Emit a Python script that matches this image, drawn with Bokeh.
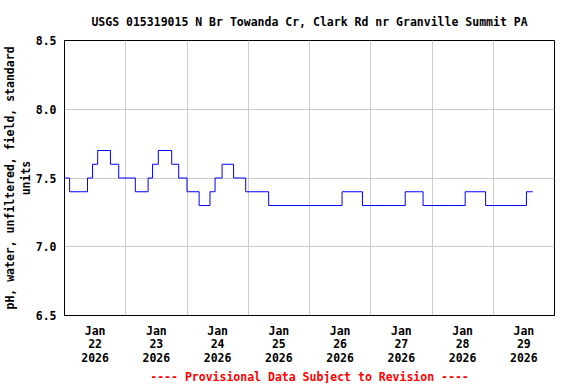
import pandas as pd
from bokeh.plotting import figure
from bokeh.models import FixedTicker, NumeralTickFormatter, Title, Range1d
from bokeh.embed import file_html
from bokeh.resources import INLINE

# pH change points (step series)
times = [
    "2026-01-22 00:00", "2026-01-22 02:00", "2026-01-22 09:00", "2026-01-22 11:00",
    "2026-01-22 13:00", "2026-01-22 18:00", "2026-01-22 21:15", "2026-01-23 03:45",
    "2026-01-23 08:45", "2026-01-23 10:30", "2026-01-23 12:45", "2026-01-23 18:00",
    "2026-01-23 20:45", "2026-01-24 00:00", "2026-01-24 04:45", "2026-01-24 09:00",
    "2026-01-24 11:00", "2026-01-24 13:45", "2026-01-24 18:15", "2026-01-24 23:00",
    "2026-01-25 08:00", "2026-01-26 12:45", "2026-01-26 20:45", "2026-01-27 13:30",
    "2026-01-27 20:30", "2026-01-28 13:00", "2026-01-28 21:00", "2026-01-29 13:00",
    "2026-01-29 15:30",
]
values = [
    7.5, 7.4, 7.5, 7.6,
    7.7, 7.6, 7.5, 7.4,
    7.5, 7.6, 7.7, 7.6,
    7.5, 7.4, 7.3, 7.4,
    7.5, 7.6, 7.5, 7.4,
    7.3, 7.4, 7.3, 7.4,
    7.3, 7.4, 7.3, 7.4,
    7.4,
]

x_start = "2026-01-22"
x_end = "2026-01-30"
label_days = ["2026-01-22", "2026-01-23", "2026-01-24", "2026-01-25",
              "2026-01-26", "2026-01-27", "2026-01-28", "2026-01-29"]
x_labels = ["Jan\n22\n2026", "Jan\n23\n2026", "Jan\n24\n2026", "Jan\n25\n2026",
            "Jan\n26\n2026", "Jan\n27\n2026", "Jan\n28\n2026", "Jan\n29\n2026"]
y_ticks = [6.5, 7.0, 7.5, 8.0, 8.5]
y_grid = [7.0, 7.5, 8.0]

title_text = "USGS 015319015 N Br Towanda Cr, Clark Rd nr Granville Summit PA"
y_label = "pH, water, unfiltered, field, standard\nunits"
footer = "---- Provisional Data Subject to Revision ----"

FONT = "DejaVu Sans Mono"
FS = "11.5px"


def ms(s):
    return pd.Timestamp(s).value // 10**6


HALF_DAY = 12 * 3600 * 1000
noons = [ms(d) + HALF_DAY for d in label_days]
midnights = [ms(d) for d in label_days] + [ms(x_end)]

p = figure(frame_width=490, frame_height=275, x_axis_type="datetime",
           output_backend="svg", toolbar_location=None,
           x_range=Range1d(ms(x_start), ms(x_end)), y_range=Range1d(6.5, 8.5),
           min_border_left=57, min_border_right=13, min_border_top=32,
           min_border_bottom=50)

p.step(pd.to_datetime(times), values, mode="after", line_color="#0000ff", line_width=1)

p.background_fill_color = "white"
p.border_fill_color = "white"
p.outline_line_color = "black"
p.outline_line_width = 1

p.title.text = title_text
p.title.align = "center"
p.title.text_font = FONT
p.title.text_font_style = "bold"
p.title.text_font_size = FS
p.title.text_color = "black"
p.title.standoff = 24

p.xgrid.ticker = FixedTicker(ticks=midnights)
p.ygrid.ticker = FixedTicker(ticks=y_grid)
for g in (p.xgrid, p.ygrid):
    g.grid_line_color = "#cccccc"
    g.grid_line_width = 1

p.xaxis.ticker = FixedTicker(ticks=noons)
p.xaxis.major_label_overrides = {n: lab for n, lab in zip(noons, x_labels)}
p.yaxis.ticker = FixedTicker(ticks=y_ticks)
p.yaxis.formatter = NumeralTickFormatter(format="0.0")
p.yaxis.axis_label = y_label
p.yaxis.axis_label_standoff = 0
p.yaxis.axis_label_text_font = FONT
p.yaxis.axis_label_text_font_style = "bold"
p.yaxis.axis_label_text_font_size = FS
p.yaxis.axis_label_text_color = "black"
p.yaxis.axis_label_text_line_height = 1.1

for ax in (p.xaxis, p.yaxis):
    ax.major_tick_out = 0
    ax.major_tick_in = 0
    ax.minor_tick_out = 0
    ax.minor_tick_in = 0
    ax.axis_line_color = "black"
    ax.major_label_text_font = FONT
    ax.major_label_text_font_style = "bold"
    ax.major_label_text_font_size = FS
    ax.major_label_text_color = "black"
    ax.major_label_text_line_height = 0.97
p.yaxis.major_label_standoff = 8
p.xaxis.major_label_standoff = 8

p.add_layout(Title(text=footer, align="center", text_color="#ff0000",
                   text_font=FONT, text_font_style="bold", text_font_size=FS,
                   standoff=0), "below")

open("out.html", "w").write(file_html(p, INLINE))
